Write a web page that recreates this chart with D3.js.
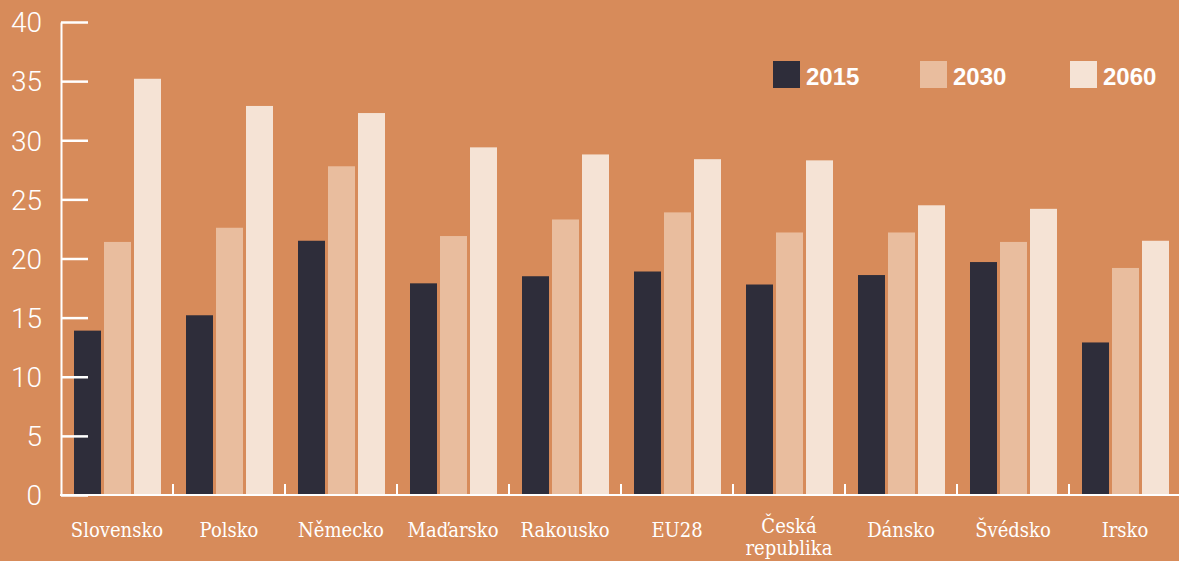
<!DOCTYPE html>
<html><head><meta charset="utf-8">
<script src="https://cdn.jsdelivr.net/npm/d3@7"></script>
<style>
html,body{margin:0;padding:0;background:#D78B5A;}
svg{display:block;}
</style></head>
<body>
<svg id="chart" width="1179" height="561"></svg>
<script>
const categories = ["Slovensko","Polsko","Německo","Maďarsko","Rakousko","EU28","Česká republika","Dánsko","Švédsko","Irsko"];
const series = ["2015","2030","2060"];
const values2015 = [13.9,15.2,21.5,17.9,18.5,18.9,17.8,18.6,19.7,12.9];
const values2030 = [21.4,22.6,27.8,21.9,23.3,23.9,22.2,22.2,21.4,19.2];
const values2060 = [35.2,32.9,32.3,29.4,28.8,28.4,28.3,24.5,24.2,21.5];
const yTicks = [0,5,10,15,20,25,30,35,40];
const colors = ["#2E2D3A","#E9BD9E","#F5E3D5"];

(function(){
const svg = d3.select("#chart");
const mLeft = 61, mTop = 22, mBottom = 495, stepW = 112;

const y = d3.scaleLinear().domain([0,40]).range([mBottom, mTop]);
const x0 = d3.scaleBand().domain(categories).range([mLeft, mLeft + stepW*categories.length]).padding(0);
const x1 = d3.scaleBand().domain(series).range([13, 100]).paddingInner(0.1).paddingOuter(0);
const color = d3.scaleOrdinal().domain(series).range(colors);

const data = categories.map((c,i)=>({cat:c, vals:[values2015[i],values2030[i],values2060[i]]}));

// bars
const g = svg.append("g");
const groups = g.selectAll("g.grp").data(data).join("g")
  .attr("transform", d=>`translate(${x0(d.cat)},0)`);
groups.selectAll("rect").data(d=>series.map((s,j)=>({s, v:d.vals[j]}))).join("rect")
  .attr("x", d=>x1(d.s)).attr("width", x1.bandwidth())
  .attr("y", d=>y(d.v)).attr("height", d=>y(0)-y(d.v))
  .attr("fill", d=>color(d.s));

// y axis
const yAxis = d3.axisLeft(y).tickValues(yTicks).tickSizeInner(-27).tickSizeOuter(0).tickPadding(19);
const ya = svg.append("g").attr("transform",`translate(${mLeft},0)`).call(yAxis);
ya.select(".domain").attr("stroke","#fff").attr("stroke-width",2);
ya.selectAll(".tick line").attr("stroke","#fff").attr("stroke-width",2.5);
ya.selectAll(".tick text").attr("fill","#fff").style("font-family","Roboto").style("font-weight","300").style("font-size","28px").attr("dy","0.35em");

// x axis line
svg.append("line").attr("x1",mLeft-1).attr("x2",1179).attr("y1",mBottom).attr("y2",mBottom)
  .attr("stroke","#fff").attr("stroke-width",2);
// separator ticks
svg.append("g").selectAll("line").data(categories.slice(1)).join("line")
  .attr("x1",d=>x0(d)).attr("x2",d=>x0(d)).attr("y1",mBottom).attr("y2",mBottom-11)
  .attr("stroke","#fff").attr("stroke-width",2);

// x labels (wrapped label drawn as two separate lines)
const labelFont = "'DejaVu Serif Condensed','DejaVu Serif'";
const lines = [];
categories.forEach(c=>{
  if (c === "Česká republika") {
    lines.push({cat:c, text:"Česká", y:533});
    lines.push({cat:c, text:"republika", y:555});
  } else {
    lines.push({cat:c, text:c, y:537});
  }
});
svg.append("g").selectAll("text").data(lines).join("text")
  .attr("x", d=>x0(d.cat)+x0.bandwidth()/2)
  .attr("y", d=>d.y)
  .attr("text-anchor","middle")
  .attr("fill","#fff")
  .style("font-family",labelFont)
  .style("font-stretch","condensed")
  .style("font-size","20px")
  .text(d=>d.text);

// legend
const legendX = [773, 920, 1070];
const lg = svg.append("g").selectAll("g").data(series).join("g")
  .attr("transform",(d,i)=>`translate(${legendX[i]},61)`);
lg.append("rect").attr("width",27).attr("height",27).attr("fill",d=>color(d));
lg.append("text").attr("x",33).attr("y",24).attr("fill","#fff")
  .style("font-family","'Liberation Sans Narrow','Liberation Sans'")
  .style("font-weight","bold").style("font-size","24px").text(d=>d);
})();
</script>
</body></html>
